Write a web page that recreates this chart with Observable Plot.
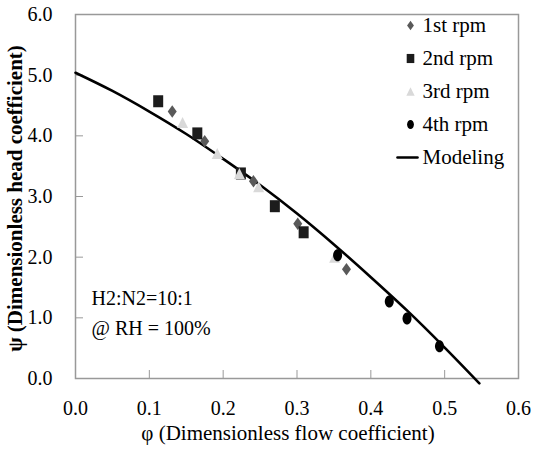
<!DOCTYPE html>
<html>
<head>
<meta charset="utf-8">
<script src="https://cdn.jsdelivr.net/npm/d3@7"></script>
<script src="https://cdn.jsdelivr.net/npm/@observablehq/plot@0.6"></script>
<style>
  html, body { margin: 0; padding: 0; background: #fff; }
</style>
</head>
<body>
<div id="chart"></div>
<script>
// ---- data ----
const rpm1X = [0.131, 0.175, 0.241, 0.301, 0.367];
const rpm1Y = [4.40, 3.91, 3.25, 2.55, 1.80];
const rpm2X = [0.112, 0.165, 0.224, 0.270, 0.309];
const rpm2Y = [4.57, 4.04, 3.38, 2.84, 2.41];
const rpm3X = [0.145, 0.192, 0.222, 0.248, 0.351];
const rpm3Y = [4.22, 3.71, 3.38, 3.16, 2.00];
const rpm4X = [0.355, 0.425, 0.449, 0.493];
const rpm4Y = [2.03, 1.27, 0.99, 0.53];
const modelX = [0, 0.05, 0.10, 0.15, 0.20, 0.25, 0.30, 0.35, 0.40, 0.45, 0.50, 0.547];
const modelY = [5.04, 4.74, 4.40, 4.03, 3.62, 3.19, 2.72, 2.21, 1.67, 1.11, 0.51, -0.08];
const xTicks = [0, 0.1, 0.2, 0.3, 0.4, 0.5, 0.6];
const yTicks = [0, 1, 2, 3, 4, 5, 6];
const seriesNames = ["1st rpm", "2nd rpm", "3rd rpm", "4th rpm"];
const seriesColors = ["#595959", "#1c1c1c", "#d9d9d9", "#000000"];
const modelName = "Modeling";
const noteLines = ["H2:N2=10:1", "@ RH = 100%"];
const xLabel = "\u03C6 (Dimensionless flow coefficient)";
const yLabel = "\u03C8 (Dimensionless head coefficient)";

// ---- custom, slightly tall marker shapes ----
const rOf = size => Math.sqrt(size / Math.PI);
const diamond = {draw(c, size) { const r = rOf(size), w = 0.9 * r, h = 1.25 * r;
  c.moveTo(0, -h); c.lineTo(w, 0); c.lineTo(0, h); c.lineTo(-w, 0); c.closePath(); }};
const square = {draw(c, size) { const r = rOf(size), w = r, h = 1.2 * r;
  c.moveTo(-w, -h); c.lineTo(w, -h); c.lineTo(w, h); c.lineTo(-w, h); c.closePath(); }};
const triangle = {draw(c, size) { const r = rOf(size), w = 1.1 * r, h = 1.1 * r;
  c.moveTo(0, -h); c.lineTo(w, h); c.lineTo(-w, h); c.closePath(); }};
const ellipse = {draw(c, size) { const r = rOf(size), a = 0.9 * r, b = 1.2 * r, k = 0.5523;
  c.moveTo(a, 0);
  c.bezierCurveTo(a, k * b, k * a, b, 0, b);
  c.bezierCurveTo(-k * a, b, -a, k * b, -a, 0);
  c.bezierCurveTo(-a, -k * b, -k * a, -b, 0, -b);
  c.bezierCurveTo(k * a, -b, a, -k * b, a, 0);
  c.closePath(); }};
const symbols = [diamond, square, triangle, ellipse];

const seriesX = [rpm1X, rpm2X, rpm3X, rpm4X];
const seriesY = [rpm1Y, rpm2Y, rpm3Y, rpm4Y];
const toRows = (xs, ys) => xs.map((x, i) => ({x, y: ys[i]}));
const modelRows = toRows(modelX, modelY);

const fmt = d3.format(".1f");
const W = 535, H = 449;
const mL = 75, mR = 17, mT = 14, mB = 71;
const xDomain = [0, 0.6], yDomain = [0, 6];
const xs = d3.scaleLinear(xDomain, [mL, W - mR]);
const ys = d3.scaleLinear(yDomain, [H - mB, mT]);

// legend positions (in pixels, converted to data through the scales)
const legSymX = xs.invert(410), legTextX = xs.invert(422);
const legY = i => ys.invert(25 + i * 33);

const marks = [
  Plot.frame({stroke: "#999", strokeWidth: 1.5}),
  Plot.axisX(xTicks, {tickSize: -8, tickPadding: 30, tickFormat: fmt, stroke: "#999", fill: "#000", label: null}),
  Plot.axisY(yTicks, {tickSize: -8, tickPadding: 31, tickFormat: fmt, stroke: "#999", fill: "#000", label: null}),
  Plot.line(modelRows, {x: "x", y: "y", curve: "catmull-rom", stroke: "#000", strokeWidth: 2.6})
];
seriesNames.forEach((name, i) => {
  marks.push(Plot.dot(toRows(seriesX[i], seriesY[i]), {x: "x", y: "y", r: 5, symbol: symbols[i], fill: seriesColors[i], stroke: "none"}));
});
// legend
seriesNames.forEach((name, i) => {
  marks.push(Plot.dot([0], {x: () => legSymX, y: () => legY(i), r: 3.8, symbol: symbols[i], fill: seriesColors[i], stroke: "none"}));
  marks.push(Plot.text([name], {x: () => legTextX, y: () => legY(i), text: d => d, textAnchor: "start", fontSize: 21}));
});
marks.push(Plot.line([{x: xs.invert(397), y: legY(4)}, {x: xs.invert(417), y: legY(4)}], {x: "x", y: "y", stroke: "#000", strokeWidth: 2.6}));
marks.push(Plot.text([modelName], {x: () => xs.invert(422), y: () => legY(4), text: d => d, textAnchor: "start", fontSize: 21}));
// note
noteLines.forEach((t, i) => {
  marks.push(Plot.text([t], {x: () => xs.invert(91), y: () => ys.invert(298 + i * 30), text: d => d, textAnchor: "start", fontSize: 20}));
});
// axis labels
marks.push(Plot.text([xLabel], {frameAnchor: "bottom", textAnchor: "middle", lineAnchor: "middle", dx: -9, dy: 55, text: d => d, fontSize: 21}));
marks.push(Plot.text([yLabel], {frameAnchor: "left", textAnchor: "middle", lineAnchor: "middle", dx: -60, dy: 2, rotate: -90, text: d => d, fontSize: 21, fontWeight: "bold"}));

const chart = Plot.plot({
  width: W, height: H,
  marginLeft: mL, marginRight: mR, marginTop: mT, marginBottom: mB,
  x: {domain: xDomain},
  y: {domain: yDomain},
  style: {fontFamily: "'Liberation Serif', serif", fontSize: "20px", background: "#fff", color: "#000"},
  marks
});
document.getElementById("chart").appendChild(chart);
</script>
</body>
</html>
